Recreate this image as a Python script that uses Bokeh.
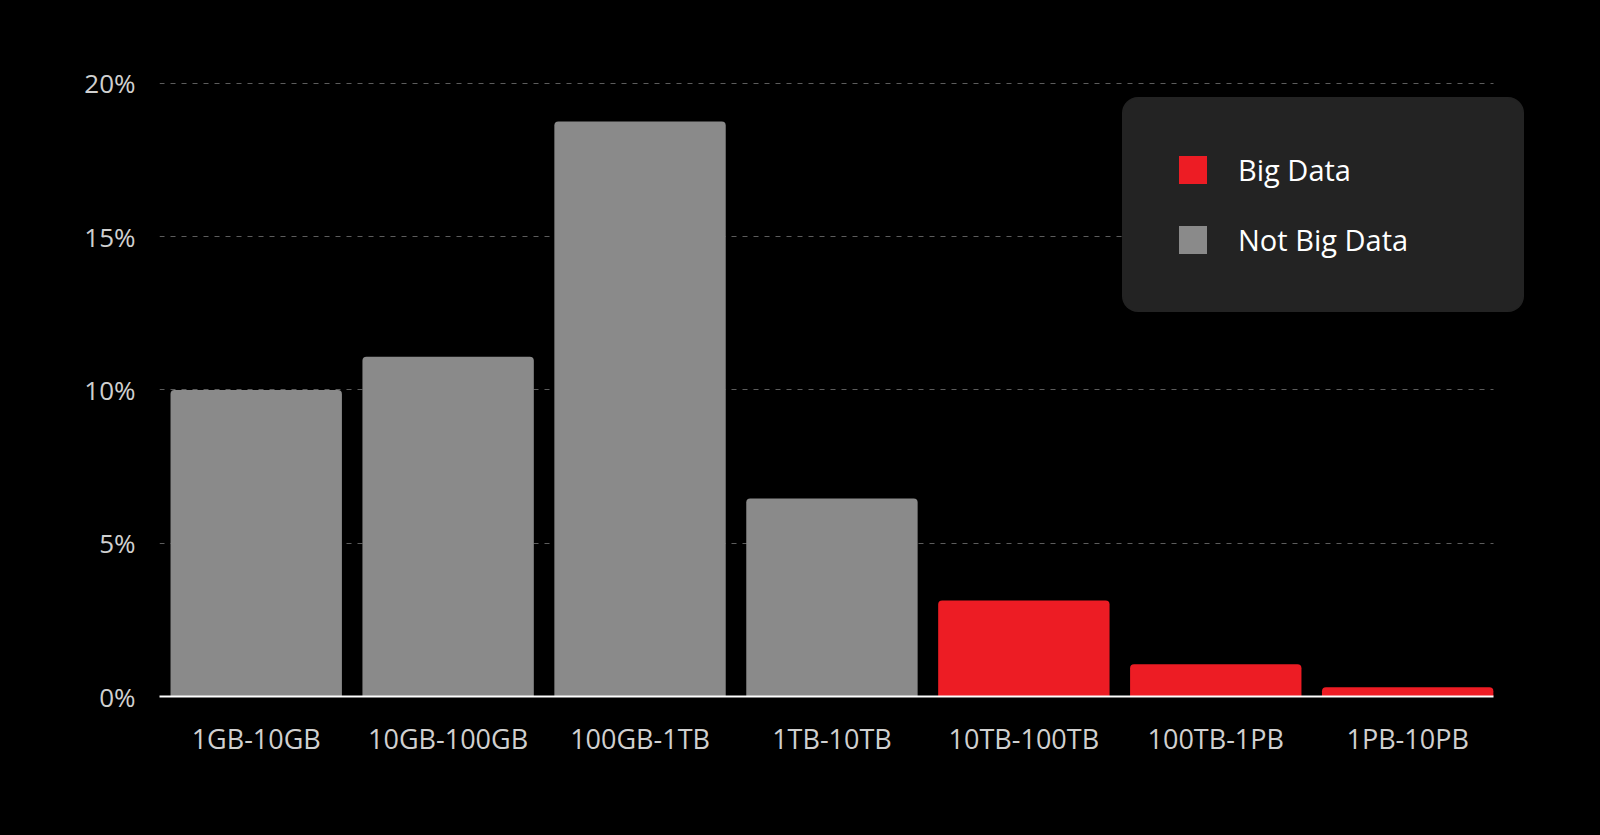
from bokeh.plotting import figure
from bokeh.models import (ColumnDataSource, Range1d, FixedTicker, PrintfTickFormatter,
                          Legend, LegendItem, GlobalInlineStyleSheet)
from bokeh.embed import file_html
from bokeh.resources import INLINE

# ---- data ----
categories = ["1GB-10GB", "10GB-100GB", "100GB-1TB", "1TB-10TB",
              "10TB-100TB", "100TB-1PB", "1PB-10PB"]
shares = [10.0, 11.08, 18.76, 6.46, 3.13, 1.05, 0.30]
is_big = [False, False, False, False, True, True, True]
y_ticks = [0, 5, 10, 15, 20]
series_names = ["Big Data", "Not Big Data"]

FONT = "Open Sans"
GRAY = "#8a8a8a"
RED = "#ed1c24"
LEGEND_BG = "#232323"

X_START, X_BARS_END, X_END = -0.504, 6.4465, 6.64

idx = list(range(len(categories)))
big_src = ColumnDataSource(dict(
    x=[i for i in idx if is_big[i]],
    top=[shares[i] for i in idx if is_big[i]],
    cat=[categories[i] for i in idx if is_big[i]],
))
not_src = ColumnDataSource(dict(
    x=[i for i in idx if not is_big[i]],
    top=[shares[i] for i in idx if not is_big[i]],
    cat=[categories[i] for i in idx if not is_big[i]],
))

p = figure(width=1584, height=815, output_backend="svg", toolbar_location=None,
           x_range=Range1d(X_START, X_END), y_range=Range1d(0, 20.29),
           min_border_left=159, min_border_right=54,
           min_border_top=74, min_border_bottom=119,
           background_fill_color="black", border_fill_color="black",
           outline_line_color=None)

p.stylesheets = [GlobalInlineStyleSheet(css="html, body { background-color: #000000; }")]

def bars(src, color):
    try:
        return p.vbar(x="x", top="top", width=0.893, source=src,
                      fill_color=color, line_color=None,
                      border_radius=(4, 4, 0, 0))
    except Exception:
        return p.vbar(x="x", top="top", width=0.893, source=src,
                      fill_color=color, line_color=None)

r_not = bars(not_src, GRAY)
r_big = bars(big_src, RED)

# axes
p.xaxis.ticker = FixedTicker(ticks=idx)
p.xaxis.bounds = (X_START, X_BARS_END)
p.xaxis.major_label_overrides = {i: c for i, c in zip(idx, categories)}
p.xaxis.axis_line_color = "white"
p.xaxis.axis_line_width = 2
p.xaxis.major_tick_line_color = None
p.xaxis.minor_tick_line_color = None
p.xaxis.major_label_standoff = 17
p.xaxis.major_label_text_color = "#d0d0d0"
p.xaxis.major_label_text_font = FONT
p.xaxis.major_label_text_font_size = "27px"

p.yaxis.ticker = FixedTicker(ticks=y_ticks)
p.yaxis.formatter = PrintfTickFormatter(format="%d%%")
p.yaxis.axis_line_color = None
p.yaxis.major_tick_line_color = None
p.yaxis.minor_tick_line_color = None
p.yaxis.major_tick_out = 0
p.yaxis.major_label_standoff = 24
p.yaxis.major_label_text_color = "#d0d0d0"
p.yaxis.major_label_text_font = FONT
p.yaxis.major_label_text_font_size = "26px"

p.xgrid.grid_line_color = None
p.ygrid.ticker = FixedTicker(ticks=y_ticks)
try:
    p.ygrid.cross_bounds = (X_START, X_BARS_END)
except Exception:
    pass
p.ygrid.grid_line_color = "#5c5c5c"
p.ygrid.grid_line_dash = "5 6"
p.ygrid.grid_line_width = 1

legend = Legend(items=[LegendItem(label=series_names[0], renderers=[r_big]),
                       LegendItem(label=series_names[1], renderers=[r_not])],
                location=(963, 384), orientation="vertical",
                background_fill_color=LEGEND_BG, background_fill_alpha=1.0,
                border_line_color=LEGEND_BG, border_line_width=1,
                padding=52, spacing=31, margin=0,
                glyph_width=35, glyph_height=35, label_height=35,
                label_width=233, label_standoff=28,
                label_text_color="white", label_text_font=FONT,
                label_text_font_size="29px")
try:
    legend.border_radius = 16
except Exception:
    pass
p.add_layout(legend, "center")

open("out.html", "w").write(file_html(p, INLINE))
